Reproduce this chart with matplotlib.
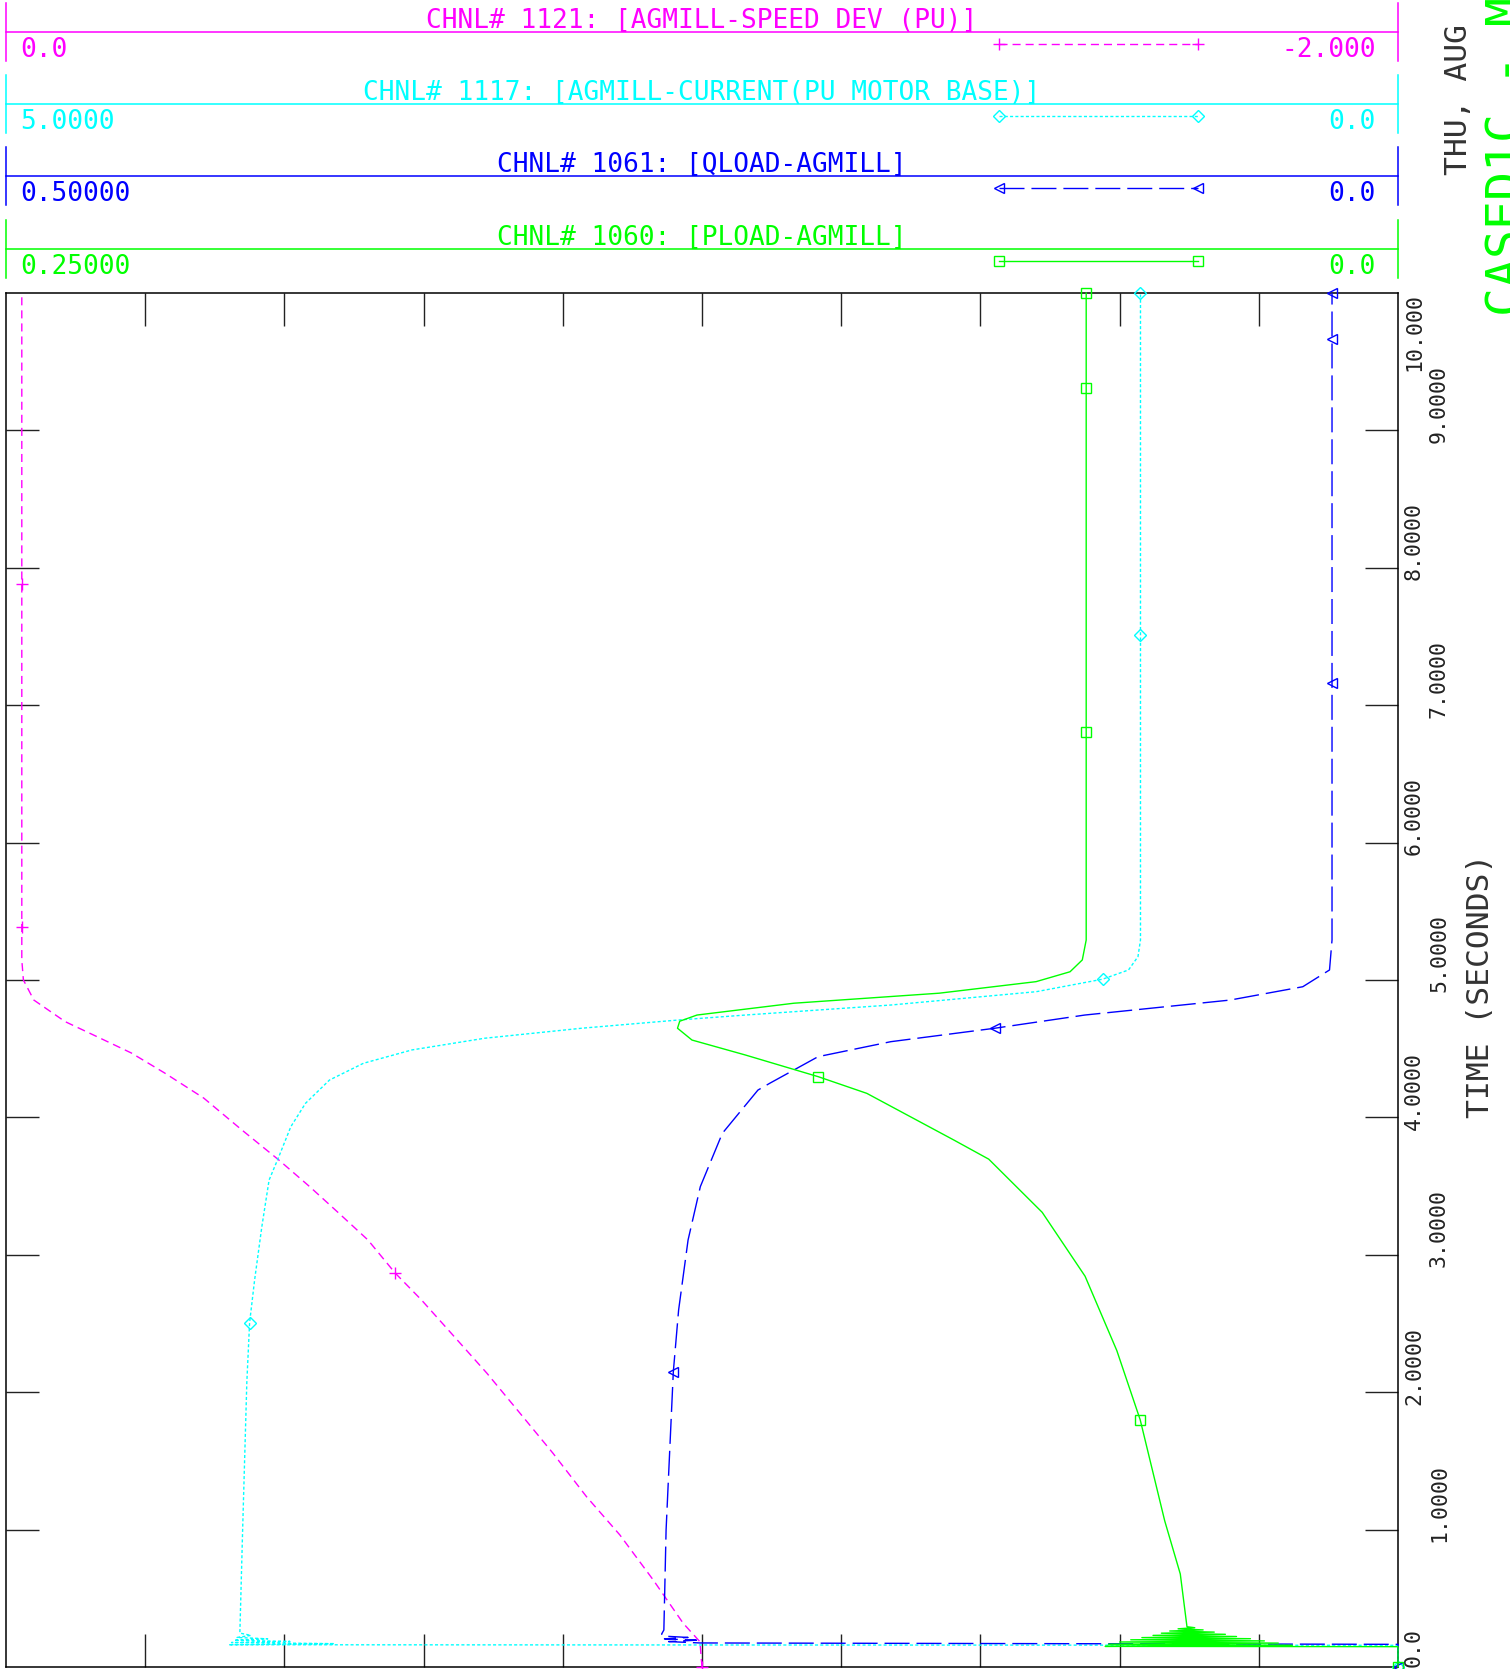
import numpy as np
import matplotlib
matplotlib.use("Agg")
import matplotlib.pyplot as plt

W, H = 1510, 1669
FONT = "DejaVu Sans Mono"

MAG, CYA, BLU, GRN = "#ff00ff", "#00ffff", "#0000ff", "#00ff00"

# ---- channel headers ----
chan_titles = ["CHNL# 1121: [AGMILL-SPEED DEV (PU)]",
               "CHNL# 1117: [AGMILL-CURRENT(PU MOTOR BASE)]",
               "CHNL# 1061: [QLOAD-AGMILL]",
               "CHNL# 1060: [PLOAD-AGMILL]"]
chan_left = [0.0, 5.0, 0.5, 0.25]
chan_right = [-2.0, 0.0, 0.0, 0.0]
left_labels = ["0.0", "5.0000", "0.50000", "0.25000"]
right_labels = ["-2.000", "0.0", "0.0", "0.0"]

# ---- time axis ----
time_ticks = [0, 1, 2, 3, 4, 5, 6, 7, 8, 9, 10]
time_labels = ["0.0", "1.0000", "2.0000", "3.0000", "4.0000", "5.0000",
               "6.0000", "7.0000", "8.0000", "9.0000", "10.000"]

# ---- channel 1121: speed deviation (pu) ----
spd_t = [0, 0.184, 0.318, 0.633, 0.961, 1.240, 1.555, 1.847, 2.138, 2.453,
         2.671, 2.868, 3.108, 3.304, 3.493, 3.690, 3.908, 4.141, 4.323,
         4.469, 4.587, 4.697, 4.854, 5.0, 5.146, 5.4, 10.0]
spd_v = [-1.0, -0.997, -0.973, -0.930, -0.882, -0.834, -0.786, -0.7385,
         -0.691, -0.6355, -0.597, -0.559, -0.520, -0.478, -0.437, -0.392,
         -0.339, -0.284, -0.228, -0.180, -0.131, -0.085, -0.040, -0.025,
         -0.0227, -0.0227, -0.0227]
spd_mk_t = [0, 2.868, 5.383, 7.883]
spd_mk_v = [-1.0, -0.559, -0.0227, -0.0227]

# ---- channel 1117: current (pu motor base) ----
cur_t = [0, 0.158, 0.162, 0.170, 0.178, 0.186, 0.195, 0.205, 0.215, 0.23,
         0.247, 1.0, 2.07, 2.506, 2.817, 3.205, 3.544, 3.714, 3.932, 4.103,
         4.272, 4.394, 4.491, 4.576, 4.649, 4.709, 4.745, 4.818, 4.915,
         5.006, 5.073, 5.170, 5.291, 5.5, 10.0]
cur_v = [0, 0, 4.20, 3.82, 4.19, 3.98, 4.18, 4.06, 4.17, 4.12, 4.16, 4.15,
         4.135, 4.125, 4.107, 4.081, 4.055, 4.020, 3.977, 3.924, 3.838,
         3.716, 3.542, 3.281, 2.932, 2.584, 2.344, 1.821, 1.299, 1.061,
         0.968, 0.934, 0.925, 0.925, 0.925]
cur_mk_t = [0, 2.506, 5.006, 7.512, 10.0]
cur_mk_v = [0, 4.125, 1.061, 0.925, 0.925]

# ---- channel 1061: Q load ----
q_t = [0, 0.165, 0.175, 0.185, 0.195, 0.205, 0.215, 0.225, 0.24, 0.269,
       0.997, 2.149, 2.598, 3.108, 3.496, 3.884, 4.199, 4.248, 4.442, 4.551,
       4.649, 4.745, 4.854, 4.951, 5.073, 5.291, 5.5, 10.0]
q_v = [0, 0, 0.2507, 0.262, 0.252, 0.2635, 0.255, 0.264, 0.2645, 0.2637,
       0.2629, 0.2603, 0.2584, 0.2550, 0.2506, 0.2427, 0.2299, 0.2257,
       0.2083, 0.1822, 0.1448, 0.1125, 0.0603, 0.0342, 0.0246, 0.0237,
       0.0237, 0.0237]
q_mk_t = [0, 2.149, 4.649, 7.163, 9.663, 10.0]
q_mk_v = [0, 0.2603, 0.1448, 0.0237, 0.0237, 0.0237]

# ---- channel 1060: P load ----
p_t = [0, 0.148, 0.150, 0.158, 0.166, 0.174, 0.182, 0.190, 0.198, 0.206,
       0.214, 0.222, 0.230, 0.238, 0.246, 0.254, 0.262, 0.270, 0.278, 0.286,
       0.293, 0.677, 1.064, 1.799, 2.303, 2.844, 3.309, 3.696, 3.836, 4.175,
       4.296, 4.454, 4.563, 4.649, 4.700, 4.745, 4.831, 4.904, 4.988, 5.060,
       5.146, 5.291, 5.5, 10.0]
p_v = [0, 0, 0.0526, 0.0190, 0.0520, 0.0215, 0.0500, 0.0240, 0.0480,
       0.0265, 0.0460, 0.0290, 0.0440, 0.0310, 0.0425, 0.0330, 0.0410,
       0.0350, 0.0395, 0.0365, 0.0379, 0.0391, 0.0419, 0.0463, 0.0505,
       0.0562, 0.0639, 0.0735, 0.0798, 0.0954, 0.1041, 0.1172, 0.1268,
       0.1294, 0.1290, 0.1259, 0.1085, 0.0824, 0.0650, 0.0589, 0.0567,
       0.0560, 0.0560, 0.0560]
p_mk_t = [0, 1.799, 4.296, 6.807, 9.307, 10.0]
p_mk_v = [0, 0.0463, 0.1041, 0.0560, 0.0560, 0.0560]

series = [
    (spd_t, spd_v, spd_mk_t, spd_mk_v, MAG, (0, (5.8, 3.6)), "+", 9),
    (cur_t, cur_v, cur_mk_t, cur_mk_v, CYA, (0, (2.2, 1.6)), "D", 6),
    (q_t, q_v, q_mk_t, q_mk_v, BLU, (0, (18, 5)), "<", 7),
    (p_t, p_v, p_mk_t, p_mk_v, GRN, "-", "s", 7),
]

fig = plt.figure(figsize=(W / 100, H / 100), dpi=100)
fig.patch.set_facecolor("white")

# plot frame, pixel box: x 6..1398, y 293..1667
X0, X1, Y0, Y1 = 6, 1398, 293, 1667
rect = [X0 / W, (H - Y1) / H, (X1 - X0) / W, (Y1 - Y0) / H]

base = fig.add_axes(rect)
base.set_xlim(0, 1)
base.set_ylim(0, 10)
for s in base.spines.values():
    s.set_linewidth(1.1)
    s.set_color("black")
base.set_xticks(np.arange(1, 10) / 10)
base.set_yticks(time_ticks[1:-1])
base.tick_params(axis="both", direction="in", length=24, width=1.0,
                 color="#222222", labelbottom=False, labelleft=False,
                 top=True, right=True)

# rotated time labels, alternating columns
for i, (tv, lab) in enumerate(zip(time_ticks, time_labels)):
    bx = 1420 if i % 2 == 0 else 1445
    xf = (bx - X0) / (X1 - X0)
    if tv == 10:
        y, ha = 10, "right"
    elif tv == 0:
        y, ha = 0, "left"
    else:
        y, ha = tv - 0.09, "left"
    base.text(xf, y, lab, transform=base.get_yaxis_transform(),
              rotation=90, rotation_mode="anchor", ha=ha, va="baseline",
              family=FONT, fontsize=15.5, color="#222222", clip_on=False)

# one overlaid axes per channel, each with its own scale
for (tt, vv, mt, mv, col, ls, mk, ms), lo, hi in zip(series, chan_left, chan_right):
    ax = fig.add_axes(rect)
    ax.set_xlim(lo, hi)
    ax.set_ylim(0, 10)
    ax.set_axis_off()
    ax.patch.set_alpha(0)
    ax.plot(vv, tt, color=col, lw=1.0, ls=ls, clip_on=False)
    ax.plot(mv, mt, ls="none", marker=mk, ms=ms, mfc="none", mec=col,
            mew=1.0, clip_on=False)

# header area drawn in pixel coordinates
hdr = fig.add_axes([0, 0, 1, 1])
hdr.set_xlim(0, W)
hdr.set_ylim(H, 0)
hdr.set_axis_off()
hdr.patch.set_alpha(0)

line_y = [32, 104, 176, 249]
for (tt, vv, mt, mv, col, ls, mk, ms), ly, title, ll, rl in zip(
        series, line_y, chan_titles, left_labels, right_labels):
    hdr.plot([X0, X1], [ly, ly], color=col, lw=1.1)
    for xx in (X0, X1):
        hdr.plot([xx, xx], [ly - 29, ly + 29], color=col, lw=1.1)
    hdr.text((X0 + X1) / 2, ly - 4, title, ha="center", va="baseline",
             family=FONT, fontsize=18.8, color=col)
    hdr.text(20, ly + 25, ll, ha="left", va="baseline", family=FONT,
             fontsize=18.8, color=col)
    hdr.text(1376, ly + 25, rl, ha="right", va="baseline", family=FONT,
             fontsize=18.8, color=col)
    hdr.plot([999, 1198], [ly + 12, ly + 12], color=col, lw=1.0, ls=ls,
             marker=mk, ms=ms, mfc="none", mec=col, mew=1.0)

# right-hand rotated texts
hdr.text(1489, 986, "TIME (SECONDS)", rotation=90, rotation_mode="anchor",
         ha="center", va="baseline", family=FONT, fontsize=22.6,
         color="#333333")
hdr.text(1467, 175, "THU, AUG", rotation=90, rotation_mode="anchor",
         ha="left", va="baseline", family=FONT, fontsize=22.6,
         color="#333333")
hdr.text(1522, 316, "CASED1C - MOTOR START", rotation=90,
         rotation_mode="anchor", ha="left", va="baseline", family=FONT,
         fontsize=34.7, color=GRN, clip_on=False)

fig.savefig("out.png", dpi=100)
